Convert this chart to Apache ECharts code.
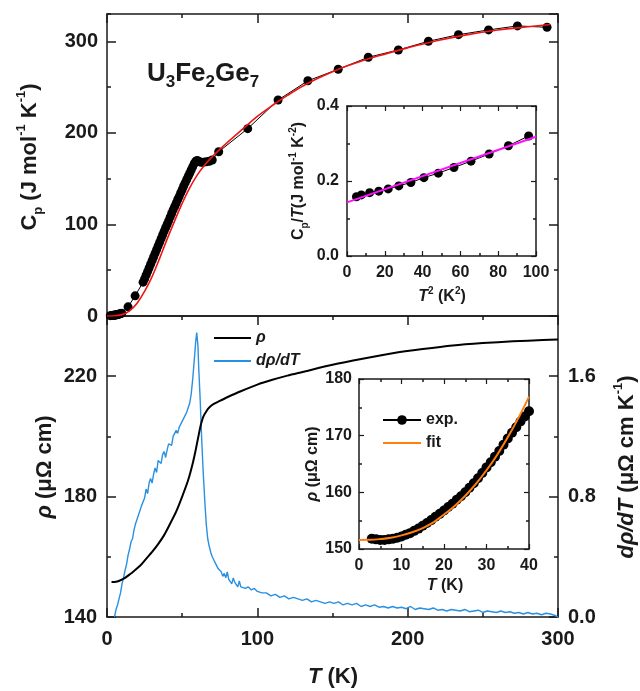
<!DOCTYPE html>
<html><head><meta charset="utf-8">
<script src="https://cdn.jsdelivr.net/npm/echarts@6/dist/echarts.min.js"></script>
<style>html,body{margin:0;padding:0;background:#fff}#c{width:640px;height:691px}</style>
</head><body><div id="c"></div>
<script>
// ---------------- data ----------------
// Top panel: Cp vs T
const cpT = [2.2,2.8,3.5,4.1,4.7,5.2,5.8,6.4,6.95,7.5,8.1,8.7,9.2,9.8,14,18.7,
  24,25,26,27,28,29,30,31,32,33,34,35,36,37,38,39,40,41,42,43,44,45,46,47,48,49,50,51,52,53,54,55,56,57,58,59,
  60,61,62.5,64,66,68,70,74.3,93.6,113.8,133.6,153.8,173.8,193.8,213.8,233.8,253.8,273,292.7];
const cpVal = [0.35,0.46,0.59,0.71,0.84,0.97,1.14,1.34,1.54,1.77,2.05,2.37,2.7,3.14,10,22,
  37,40.5,44.5,48.5,52.5,56.5,60.5,64.5,68.5,72.5,76.5,80.5,84.5,88.5,92.5,96.5,100,104,108,112,116,119.5,123,127,130.5,134.5,138,142,145.5,149,152.5,156,159.5,163,166.5,169,
  170,169,168,168,168.5,169,170.5,179.5,204.7,236,257,269.6,282.7,290.7,300.2,307.4,312.6,317,315.5];
const cpFitT = [0,5,10,15,20,25,30,35,40,45,50,55,60,65,70,75,80,90,100,110,120,130,140,150,160,180,200,220,240,260,280,295];
const cpFitVal = [0,0.3,1.5,5.5,14,27,43,63,84,104,123,140,154,165,174,182,189.5,204,218,230,241,251,259.5,267,273.5,284,293,301,307.5,312.5,316,318.5];
// Top inset: Cp/T vs T^2
const ctT2 = [5.0,7.6,12.0,16.8,21.8,27.4,33.8,40.7,48.3,56.6,65.6,75.2,85.4,96.1];
const ctVal = [0.158,0.163,0.169,0.173,0.179,0.187,0.196,0.209,0.221,0.236,0.253,0.272,0.294,0.32];
const ctFitT2 = [0,100];
const ctFitVal = [0.143,0.318];
// Bottom panel: rho and drho/dT vs T
const rhoT = [3,6,9,12,15,18,22,26,30,34,38,42,46,50,54,57,59,61,62.5,64,66,68,71,75,80,89,100,110,120,130,150,170,190,210,230,250,270,290,300];
const rhoVal = [151.6,151.7,152.2,153.0,154.1,155.3,157.0,159.3,161.6,164.2,167.2,171,175,180,185.5,191,195.5,200.5,204,206.5,208.3,209.6,210.8,211.8,213,215,217.2,218.8,220.2,221.4,223.8,225.8,227.6,229,230.2,231,231.6,232,232.2];
const drT = [5,6,7,8,9,10,11,12,13,14,15,16,17,18,19,20,21,22,23,24,25,26,27,28,29,30,31,32,33,34,35,36,37,38,39,40,41,42,43,44,45,46,47,48,49,50,51,52,53,54,55,56,57,58,59,
  59.7,60.5,61,62,63,64,65,66,67,68,69,70,
  71,72,73,74,75,76,77,78,79,80,81,82,83,84,85,86,87,88,89,90,
  92,94,96,98,100,
  103,106,109,112,115,118,121,124,127,130,133,136,139,142,145,148,151,154,157,160,163,166,169,172,175,178,181,184,187,190,
  193,196,199,202,205,208,211,214,217,220,223,226,229,232,235,238,241,244,247,250,253,256,259,262,265,268,271,274,277,280,
  283,286,289,292,295,298,300];
const drVal = [0.00,0.05,0.08,0.12,0.16,0.22,0.26,0.31,0.35,0.41,0.45,0.50,0.52,0.58,0.62,0.63,0.68,0.69,0.74,0.75,0.79,0.85,0.82,0.89,0.92,0.89,0.95,0.99,0.96,1.04,1.05,1.02,1.08,1.10,1.06,1.11,1.15,1.16,1.14,1.20,1.21,1.24,1.22,1.26,1.27,1.30,1.31,1.34,1.36,1.39,1.42,1.48,1.58,1.70,1.83,
  1.89,1.80,1.66,1.44,1.18,0.96,0.78,0.62,0.52,0.47,0.43,0.40,
  0.38,0.36,0.35,0.32,0.31,0.30,0.27,0.29,0.26,0.30,0.25,0.24,0.22,0.26,0.23,0.22,0.20,0.24,0.20,0.21,
  0.19,0.20,0.18,0.19,0.17,
  0.16,0.16,0.14,0.15,0.13,0.14,0.12,0.13,0.12,0.11,0.12,0.10,0.11,0.10,0.09,0.10,0.09,0.10,0.08,0.09,0.08,0.09,0.07,0.08,0.07,0.08,0.065,0.07,0.06,0.07,
  0.06,0.065,0.055,0.07,0.05,0.06,0.055,0.05,0.06,0.045,0.05,0.04,0.05,0.045,0.04,0.05,0.035,0.04,0.045,0.03,0.04,0.035,0.03,0.04,0.03,0.035,0.025,0.03,0.02,0.03,
  0.02,0.025,0.015,0.025,0.02,0.01,0.0];
// Bottom inset: rho vs T (exp. and fit)
const inT = [3,4,5,6,7,8,9,10,11,12,13,14,15,16,17,18,19,20,21,22,23,24,25,26,27,28,29,30,31,32,33,34,35,36,37,38,39,40];
const inVal = [151.8,151.7,151.6,151.6,151.7,151.8,152.0,152.2,152.5,152.8,153.2,153.6,154.1,154.6,155.1,155.7,156.2,156.8,157.4,158.0,158.7,159.3,160.0,160.8,161.6,162.5,163.4,164.4,165.3,166.3,167.3,168.4,169.5,170.5,171.5,172.5,173.4,174.3];
const inFitT = [0,2.5,5,7.5,10,12.5,15,17.5,20,22.5,25,27.5,30,32.5,35,37.5,40];
const inFitVal = [151.6,151.62,151.75,151.98,152.4,152.95,153.7,154.7,156.1,157.6,159.4,161.5,163.9,166.6,169.7,173.1,176.9];

// ---------------- chart ----------------
const F = '"Liberation Sans", Arial, Helvetica, sans-serif';
const INK = '#1a1a1a';
const pairs = (xs, ys) => xs.map((x, i) => [x, ys[i]]);

function ax(o) {
  const base = {
    type: 'value', splitLine: {show: false},
    axisLine: {show: true, onZero: false, lineStyle: {color: INK, width: 1.5}},
    axisTick: {show: true, inside: true, length: 9, lineStyle: {color: INK, width: 1.5}},
    minorTick: {show: false},
    axisLabel: {show: false}
  };
  return Object.assign(base, o);
}
const mainLbl = (o) => Object.assign({show: true, fontSize: 20, fontWeight: 'bold', fontFamily: F, color: INK}, o);
const insLbl = (o) => Object.assign({show: true, fontSize: 16, fontWeight: 'bold', fontFamily: F, color: INK}, o);
const mTick = (n, len) => ({show: true, splitNumber: n, length: len, lineStyle: {color: INK, width: 1.5}});
const insTick = {show: true, inside: true, length: 5, lineStyle: {color: INK, width: 1.2}};
const insLine = {show: true, onZero: false, lineStyle: {color: INK, width: 1.5}};

const xAxis = [
  ax({gridIndex: 0, position: 'bottom', min: 0, max: 300, interval: 100, axisTick: {show: false}}),
  ax({gridIndex: 0, position: 'top', min: 0, max: 300, interval: 100, minorTick: mTick(2, 4)}),
  ax({gridIndex: 1, position: 'bottom', min: 0, max: 300, interval: 100, minorTick: mTick(2, 4),
      axisLabel: mainLbl({margin: 12})}),
  ax({gridIndex: 1, position: 'top', min: 0, max: 300, interval: 100, minorTick: mTick(2, 4)}),
  ax({gridIndex: 2, position: 'bottom', min: 0, max: 100, interval: 20, axisLine: insLine, axisTick: insTick,
      minorTick: mTick(2, 3), axisLabel: insLbl({margin: 9})}),
  ax({gridIndex: 2, position: 'top', min: 0, max: 100, interval: 20, axisLine: insLine, axisTick: insTick, minorTick: mTick(2, 3)}),
  ax({gridIndex: 3, position: 'bottom', min: 0, max: 40, interval: 10, axisLine: insLine, axisTick: insTick,
      minorTick: mTick(2, 3), axisLabel: insLbl({margin: 9})}),
  ax({gridIndex: 3, position: 'top', min: 0, max: 40, interval: 10, axisLine: insLine, axisTick: insTick, minorTick: mTick(2, 3)})
];
const noLine = {show: false, onZero: false};
const minorAx = (grid, pos, min, max, interval) => ax({gridIndex: grid, position: pos, min, max, interval,
  axisLine: noLine, axisTick: {show: true, inside: true, length: 4, lineStyle: {color: INK, width: 1.5}}});
const yAxis = [
  ax({gridIndex: 0, position: 'left', min: 0, max: 330, interval: 100,
      axisLabel: mainLbl({margin: 9, showMaxLabel: false})}),
  minorAx(0, 'left', 0, 330, 50),
  ax({gridIndex: 0, position: 'right', min: 0, max: 330, interval: 100}),
  minorAx(0, 'right', 0, 330, 50),
  ax({gridIndex: 1, position: 'left', min: 140, max: 240, interval: 40,
      axisLabel: mainLbl({margin: 10, showMaxLabel: false})}),
  minorAx(1, 'left', 140, 240, 20),
  ax({gridIndex: 1, position: 'right', min: 0, max: 2.0, interval: 0.8,
      axisLabel: mainLbl({margin: 10, showMaxLabel: false, formatter: v => v.toFixed(1)})}),
  minorAx(1, 'right', 0, 2.0, 0.4),
  ax({gridIndex: 2, position: 'left', min: 0, max: 0.4, interval: 0.2, axisLine: insLine, axisTick: insTick,
      minorTick: mTick(2, 3), axisLabel: insLbl({margin: 8, formatter: v => v.toFixed(1)})}),
  ax({gridIndex: 2, position: 'right', min: 0, max: 0.4, interval: 0.2, axisLine: insLine, axisTick: insTick, minorTick: mTick(2, 3)}),
  ax({gridIndex: 3, position: 'left', min: 150, max: 180, interval: 10, axisLine: insLine, axisTick: insTick,
      minorTick: mTick(2, 3), axisLabel: insLbl({margin: 7})}),
  ax({gridIndex: 3, position: 'right', min: 150, max: 180, interval: 10, axisLine: insLine, axisTick: insTick, minorTick: mTick(2, 3)})
];

const grid = [
  {left: 107, top: 14, width: 451, height: 302},
  {left: 107, top: 316, width: 451, height: 301},
  {left: 347, top: 106, width: 189, height: 150},
  {left: 359, top: 379, width: 170, height: 170}
].map(g => Object.assign({containLabel: false, outerBoundsMode: 'none', show: false}, g));

const series = [
  {name: 'cp', type: 'line', xAxisIndex: 0, yAxisIndex: 0, data: pairs(cpT, cpVal),
   symbol: 'circle', symbolSize: 9, itemStyle: {color: '#000'}, lineStyle: {color: '#000', width: 1}, z: 3},
  {name: 'cpfit', type: 'line', xAxisIndex: 0, yAxisIndex: 0, data: pairs(cpFitT, cpFitVal), smooth: 0.4,
   symbol: 'none', lineStyle: {color: '#f01414', width: 1.6}, z: 4},
  {name: 'ct', type: 'line', xAxisIndex: 4, yAxisIndex: 8, data: pairs(ctT2, ctVal),
   symbol: 'circle', symbolSize: 9, itemStyle: {color: '#000'}, lineStyle: {color: '#000', width: 1}, z: 3},
  {name: 'ctfit', type: 'line', xAxisIndex: 4, yAxisIndex: 8, data: pairs(ctFitT2, ctFitVal),
   symbol: 'none', lineStyle: {color: '#ff10ff', width: 2}, z: 4},
  {name: 'dρ/dT', type: 'line', xAxisIndex: 2, yAxisIndex: 6, data: pairs(drT, drVal),
   symbol: 'none', lineStyle: {color: '#2a90e0', width: 1.4}, itemStyle: {color: '#2a90e0'}, z: 3},
  {name: 'ρ', type: 'line', xAxisIndex: 2, yAxisIndex: 4, data: pairs(rhoT, rhoVal), smooth: 0.25,
   symbol: 'none', lineStyle: {color: '#000', width: 2}, itemStyle: {color: '#000'}, z: 4},
  {name: 'exp.', type: 'line', xAxisIndex: 6, yAxisIndex: 10, data: pairs(inT, inVal),
   symbol: 'circle', symbolSize: 10, itemStyle: {color: '#000'}, lineStyle: {color: '#000', width: 2}, z: 3},
  {name: 'fit', type: 'line', xAxisIndex: 6, yAxisIndex: 10, data: pairs(inFitT, inFitVal), smooth: 0.4,
   symbol: 'none', lineStyle: {color: '#ff8010', width: 2}, itemStyle: {color: '#ff8010'}, z: 4}
];

const lineIcon = 'path://M0,0 L40,0 L40,2 L0,2 Z';
const legend = [
  {data: [{name: 'ρ', icon: lineIcon, itemStyle: {color: '#000'}},
          {name: 'dρ/dT', icon: lineIcon, itemStyle: {color: '#2a90e0'}}],
   orient: 'vertical', left: 214, top: 330, itemWidth: 37, itemHeight: 14, itemGap: 7,
   padding: 0, selectedMode: false,
   textStyle: {fontSize: 16, fontWeight: 'bold', fontStyle: 'italic', fontFamily: F, color: INK}},
  {data: ['exp.', {name: 'fit', icon: lineIcon, itemStyle: {color: '#ff8010'}}],
   orient: 'vertical', left: 382, top: 412, itemWidth: 38, itemHeight: 12, itemGap: 7,
   padding: 0, selectedMode: false,
   textStyle: {fontSize: 16, fontWeight: 'bold', fontFamily: F, color: INK}}
];

function richSet(size, small, lh) {
  const b = {fontSize: size, fontWeight: 'bold', fontFamily: F, fill: INK, lineHeight: lh};
  return {
    n: b,
    i: Object.assign({}, b, {fontStyle: 'italic'}),
    sup: {fontSize: small, fontWeight: 'bold', fontFamily: F, fill: INK, lineHeight: small, verticalAlign: 'top'},
    sub: {fontSize: small, fontWeight: 'bold', fontFamily: F, fill: INK, lineHeight: small, verticalAlign: 'bottom'}
  };
}
const RM = richSet(22, 13, 30);
const RI = richSet(16, 10, 22);
function label(x, y, text, rich, rot) {
  return {type: 'text', x, y, rotation: rot ? Math.PI / 2 : 0, z: 10,
    style: {text, rich, align: 'center', verticalAlign: 'middle', fill: INK}};
}
const graphic = [
  {type: 'text', x: 147, y: 74, z: 10, style: {
    text: '{b|U}{s|3}{b|Fe}{s|2}{b|Ge}{s|7}', align: 'left', verticalAlign: 'middle',
    rich: {b: {fontSize: 26, fontWeight: 'bold', fontFamily: F, fill: INK, lineHeight: 34},
           s: {fontSize: 17, fontWeight: 'bold', fontFamily: F, fill: INK, lineHeight: 17, verticalAlign: 'bottom'}}}},
  label(30, 157, '{n|C}{sub|p}{n| (J mol}{sup|-1}{n| K}{sup|-1}{n|)}', RM, true),
  label(45, 467, '{i|ρ}{n| (μΩ cm)}', RM, true),
  label(627, 467, '{i|dρ/dT}{n| (μΩ cm K}{sup|-1}{n|)}', RM, true),
  label(333, 677, '{i|T}{n| (K)}', RM, false),
  label(299, 181, '{n|C}{sub|p}{n|/}{i|T}{n|(J mol}{sup|-1}{n| K}{sup|-2}{n|)}', RI, true),
  label(442, 297, '{i|T}{sup|2}{n| (K}{sup|2}{n|)}', RI, false),
  label(313, 464, '{i|ρ}{n| (μΩ cm)}', RI, true),
  label(445, 586, '{i|T}{n| (K)}', RI, false)
];

const chart = echarts.init(document.getElementById('c'), null, {renderer: 'canvas'});
chart.setOption({
  animation: false, backgroundColor: '#fff',
  grid, xAxis, yAxis, series, legend, graphic
});
</script></body></html>
